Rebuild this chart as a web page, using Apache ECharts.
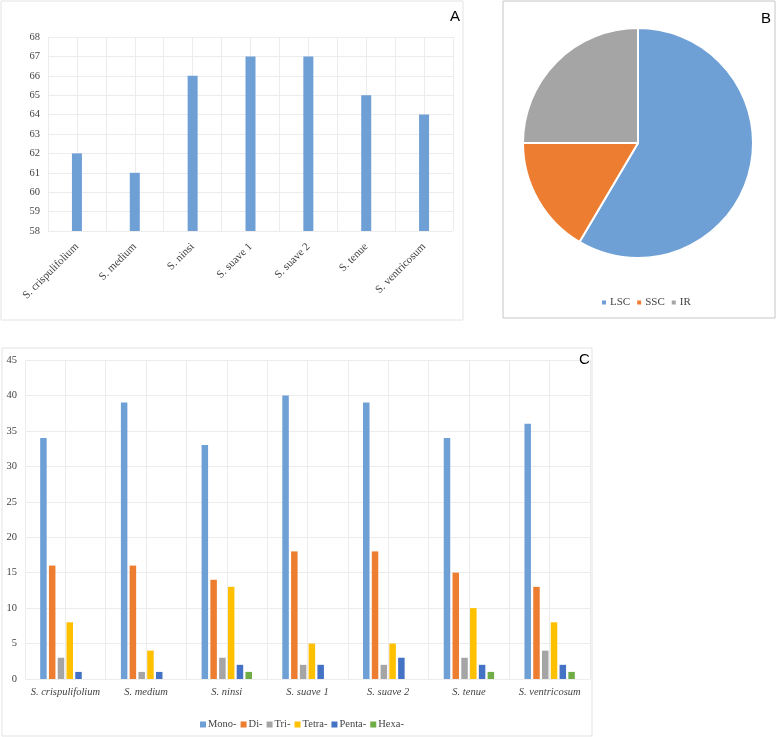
<!DOCTYPE html>
<html>
<head>
<meta charset="utf-8">
<script src="https://cdn.jsdelivr.net/npm/echarts@6/dist/echarts.min.js"></script>
<style>
html,body{margin:0;padding:0;background:#fff}
#main{width:777px;height:737px}
</style>
</head>
<body>
<div id="main"></div>
<script>
// panel A - total SSRs per species
var species = ['S. crispulifolium', 'S. medium', 'S. ninsi', 'S. suave 1', 'S. suave 2', 'S. tenue', 'S. ventricosum'];
var totalSSR = [62, 61, 66, 67, 67, 65, 64];

// panel B - share by region
var regionNames = ['LSC', 'SSC', 'IR'];
var regionShare = [58.5, 16.5, 25];

// panel C - repeat types
var repeatTypes = ['Mono-', 'Di-', 'Tri-', 'Tetra-', 'Penta-', 'Hexa-'];
var mono  = [34, 39, 33, 40, 39, 34, 36];
var di    = [16, 16, 14, 18, 18, 15, 13];
var tri   = [3, 1, 3, 2, 2, 3, 4];
var tetra = [8, 4, 13, 5, 5, 10, 8];
var penta = [1, 1, 2, 2, 3, 2, 2];
var hexa  = [0, 0, 1, 0, 0, 1, 1];

var repeatData = [mono, di, tri, tetra, penta, hexa];
var repeatColors = ['#6E9FD5', '#ED7D31', '#A5A5A5', '#FFC000', '#4472C4', '#70AD47'];
var pieColors = ['#6E9FD5', '#ED7D31', '#A5A5A5'];

var serif = 'Liberation Serif';
var gridColor = '#ececec';
var labelColor = '#444';

var chart = echarts.init(document.getElementById('main'));

var repeatSeries = [];
for (var i = 0; i < repeatTypes.length; i++) {
    repeatSeries.push({
        name: repeatTypes[i],
        type: 'bar',
        xAxisIndex: 2,
        yAxisIndex: 1,
        barWidth: 6.5,
        barGap: '35%',
        itemStyle: { color: repeatColors[i] },
        data: repeatData[i]
    });
}

var pieData = [];
for (var j = 0; j < regionNames.length; j++) {
    pieData.push({ name: regionNames[j], value: regionShare[j], itemStyle: { color: pieColors[j] } });
}

var panelTitle = { fontFamily: 'Liberation Sans', fontSize: 15, fontWeight: 'normal', color: '#000' };

var option = {
    animation: false,
    title: [
        { text: 'A', left: 445, top: 4, textStyle: panelTitle },
        { text: 'B', left: 756, top: 6, textStyle: panelTitle },
        { text: 'C', left: 574, top: 347, textStyle: panelTitle }
    ],
    graphic: [
        { type: 'rect', shape: { x: 1, y: 1, width: 462, height: 319 }, style: { fill: 'none', stroke: '#e3e3e3', lineWidth: 1 } },
        { type: 'rect', shape: { x: 503, y: 1, width: 272, height: 317 }, style: { fill: 'none', stroke: '#c6c6c6', lineWidth: 1 } },
        { type: 'rect', shape: { x: 2, y: 348, width: 590, height: 388 }, style: { fill: 'none', stroke: '#e3e3e3', lineWidth: 1 } }
    ],
    legend: [
        {
            data: repeatTypes,
            left: 195,
            top: 714,
            itemWidth: 6,
            itemHeight: 6,
            itemGap: 4,
            icon: 'rect',
            textStyle: { fontFamily: serif, fontSize: 10.5, color: labelColor, padding: [0, 0, 0, -3] }
        },
        {
            data: regionNames,
            left: 595,
            top: 292,
            itemWidth: 6,
            itemHeight: 6,
            itemGap: 5,
            icon: 'rect',
            textStyle: { fontFamily: serif, fontSize: 11, color: labelColor, padding: [0, 0, 0, -2] }
        }
    ],
    grid: [
        { left: 48, right: 324, top: 37, bottom: 506 },
        { left: 25, right: 187, top: 360, bottom: 58 }
    ],
    xAxis: [
        {
            type: 'category', gridIndex: 0, data: species,
            axisLine: { show: false }, axisTick: { show: false },
            axisLabel: { rotate: 45, interval: 0, margin: 14, fontFamily: serif, fontSize: 11, color: labelColor }
        },
        {
            type: 'value', gridIndex: 0, min: 0, max: 14, interval: 1, position: 'top',
            axisLine: { show: false }, axisTick: { show: false }, axisLabel: { show: false },
            splitLine: { lineStyle: { color: gridColor } }
        },
        {
            type: 'category', gridIndex: 1, data: species,
            axisLine: { show: false }, axisTick: { show: false },
            axisLabel: { interval: 0, margin: 8, fontFamily: serif, fontStyle: 'italic', fontSize: 10.5, color: labelColor }
        },
        {
            type: 'value', gridIndex: 1, min: 0, max: 14, interval: 1, position: 'top',
            axisLine: { show: false }, axisTick: { show: false }, axisLabel: { show: false },
            splitLine: { lineStyle: { color: gridColor } }
        }
    ],
    yAxis: [
        {
            type: 'value', gridIndex: 0, min: 58, max: 68, interval: 1,
            axisLine: { show: false }, axisTick: { show: false },
            axisLabel: { margin: 8, fontFamily: serif, fontSize: 10.5, color: labelColor },
            splitLine: { lineStyle: { color: gridColor } }
        },
        {
            type: 'value', gridIndex: 1, min: 0, max: 45, interval: 5,
            axisLine: { show: false }, axisTick: { show: false },
            axisLabel: { margin: 8, fontFamily: serif, fontSize: 10.5, color: labelColor },
            splitLine: { lineStyle: { color: gridColor } }
        }
    ],
    series: [
        {
            name: 'SSR', type: 'bar', xAxisIndex: 0, yAxisIndex: 0,
            barWidth: 10,
            itemStyle: { color: '#6E9FD5' },
            data: totalSSR
        },
        {
            name: 'Region', type: 'pie',
            center: [638, 143], radius: 115,
            startAngle: 90,
            label: { show: false }, labelLine: { show: false },
            itemStyle: { borderColor: '#fff', borderWidth: 2 },
            data: pieData
        }
    ].concat(repeatSeries)
};

chart.setOption(option);
</script>
</body>
</html>
